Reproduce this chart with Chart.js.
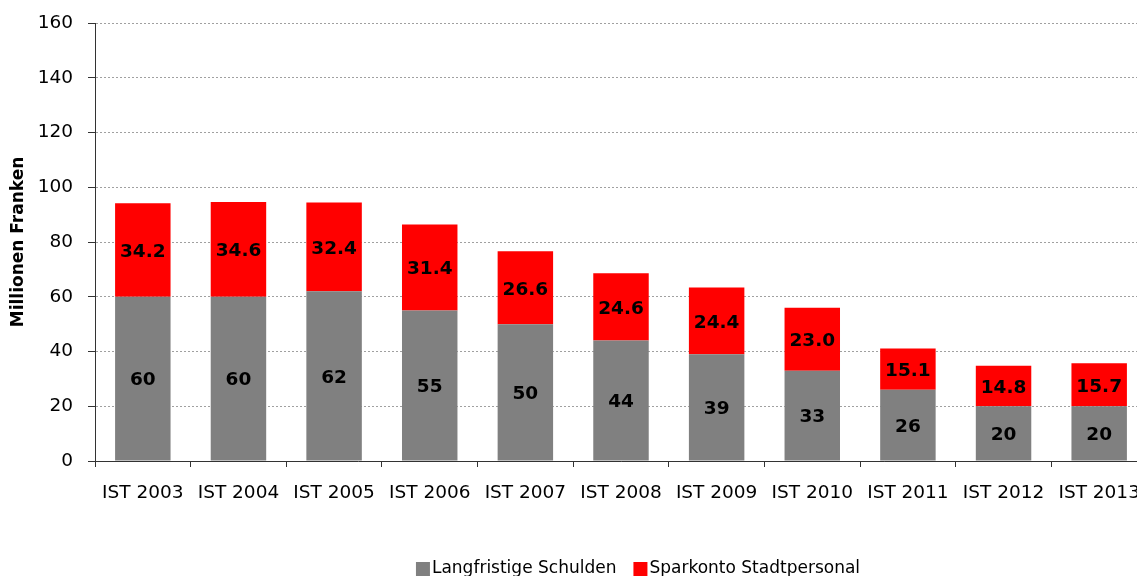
<!DOCTYPE html>
<html>
<head>
<meta charset="utf-8">
<script src="https://cdn.jsdelivr.net/npm/chart.js@4"></script>
<style>
  html, body { margin: 0; padding: 0; background: #fff; overflow: hidden; }
  #wrap { width: 1276px; height: 576px; }
</style>
</head>
<body>
<div id="wrap"><canvas id="chart" width="1276" height="576"></canvas></div>
<script>
// ── Data ─────────────────────────────────────────────────────────
const years = ["IST 2003","IST 2004","IST 2005","IST 2006","IST 2007","IST 2008","IST 2009","IST 2010","IST 2011","IST 2012","IST 2013"];
const schulden = [60, 60, 62, 55, 50, 44, 39, 33, 26, 20, 20];
const sparkonto = [34.2, 34.6, 32.4, 31.4, 26.6, 24.6, 24.4, 23.0, 15.1, 14.8, 15.7];
const yTicks = [0, 20, 40, 60, 80, 100, 120, 140, 160];

const FONT = "'DejaVu Sans', Verdana, sans-serif";

// value labels inside each segment
const segLabels = {
  id: "segLabels",
  afterDatasetsDraw(chart) {
    const ctx = chart.ctx;
    ctx.save();
    ctx.font = "bold 18.5px " + FONT;
    ctx.fillStyle = "#000";
    ctx.textAlign = "center";
    ctx.textBaseline = "middle";
    chart.data.datasets.forEach((ds, di) => {
      chart.getDatasetMeta(di).data.forEach((bar, i) => {
        const v = ds.data[i];
        const txt = di === 0 ? String(Math.round(v)) : v.toFixed(1);
        ctx.fillText(txt, bar.x, (bar.y + bar.base) / 2 + 2);
      });
    });
    ctx.restore();
  }
};

// legend at the bottom (clipped by the window like the original)
const bottomLegend = {
  id: "bottomLegend",
  afterDraw(chart) {
    const ctx = chart.ctx;
    ctx.save();
    ctx.font = "17px " + FONT;
    ctx.textBaseline = "middle";
    const box = 14, gap = 2, sep = 17, y = 569;
    const items = chart.data.datasets.map(d => ({ label: d.label, color: d.backgroundColor, w: ctx.measureText(d.label).width }));
    const total = items.reduce((s, it) => s + box + gap + it.w, 0) + sep * (items.length - 1);
    let x = chart.width / 2 - total / 2;
    items.forEach(it => {
      ctx.fillStyle = it.color;
      ctx.fillRect(x, y - box / 2, box, box);
      x += box + gap;
      ctx.fillStyle = "#000";
      ctx.fillText(it.label, x, y);
      x += it.w + sep;
    });
    ctx.restore();
  }
};

new Chart(document.getElementById("chart").getContext("2d"), {
  type: "bar",
  data: {
    labels: years,
    datasets: [
      { label: "Langfristige Schulden", data: schulden, backgroundColor: "#808080", barPercentage: 0.58, categoryPercentage: 1 },
      { label: "Sparkonto Stadtpersonal", data: sparkonto, backgroundColor: "#ff0000", barPercentage: 0.58, categoryPercentage: 1 }
    ]
  },
  options: {
    responsive: false, animation: false,
    layout: { padding: { top: 23, right: 129, bottom: 0, left: 0 } },
    plugins: { legend: { display: false }, tooltip: { enabled: false } },
    scales: {
      x: {
        stacked: true,
        grid: { offset: true, drawOnChartArea: false, tickLength: 6, color: "#333", lineWidth: 1 },
        border: { color: "#333", width: 1 },
        ticks: { autoSkip: false, maxRotation: 0, padding: 15, color: "#000", font: { family: FONT, size: 18.5 } },
        afterFit: s => { s.height = 115; s.paddingLeft = 0; s.paddingRight = 0; }
      },
      y: {
        stacked: true, min: 0, max: 160,
        afterBuildTicks: s => { s.ticks = yTicks.map(v => ({ value: v })); },
        grid: { color: "#a0a0a0", tickColor: "#333", tickLength: 7, lineWidth: 1 },
        border: { color: "#333", width: 1, dash: [2, 2] },
        ticks: { padding: 15, color: "#000", font: { family: FONT, size: 18.5 } },
        title: { display: true, text: "Millionen Franken", color: "#000", font: { family: FONT, size: 17, weight: "bold" }, padding: { top: 8, bottom: 0 } },
        afterFit: s => { s.width = 95; s.paddingTop = 0; s.paddingBottom = 0; }
      }
    }
  },
  plugins: [segLabels, bottomLegend]
});
</script>
</body>
</html>
